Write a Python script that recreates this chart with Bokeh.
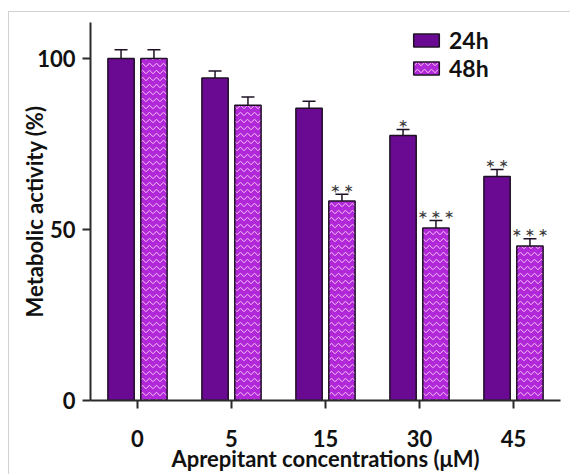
import numpy as np
from bokeh.plotting import figure
from bokeh.models import (Range1d, FixedTicker, ColumnDataSource, Whisker, TeeHead,
                          Legend, LegendItem)
from bokeh.core.properties import value
from bokeh.embed import file_html
from bokeh.resources import INLINE

# ---- data ----
categories = ["0", "5", "15", "30", "45"]
mean_24h = [100.0, 94.3, 85.4, 77.5, 65.5]
err_24h = [2.5, 2.0, 2.1, 1.7, 2.0]
mean_48h = [100.0, 86.3, 58.3, 50.4, 45.2]
err_48h = [2.5, 2.4, 2.0, 2.2, 2.1]
TS = "\u2009"
sig_24h = ["", "", "", "*", TS.join("**")]
sig_48h = ["", "", TS.join("**"), TS.join("***"), TS.join("***")]
series_labels = ["24h", "48h"]
y_ticks = [0, 50, 100]

FONT = "Lato"
C24 = "#6a0a92"
C48 = "#b028d8"
HATCH = "#f6c4f2"
EDGE = "#1e1024"
AXC = "#2b2b2b"

idx = np.arange(len(categories))
off = 0.175
bw = 0.28

src24 = ColumnDataSource(dict(x=idx - off, top=mean_24h, up=np.array(mean_24h) + np.array(err_24h), sig=sig_24h))
src48 = ColumnDataSource(dict(x=idx + off, top=mean_48h, up=np.array(mean_48h) + np.array(err_48h), sig=sig_48h))

# canvas placed at (9, 12) of the page, framed by thin grey lines on top/left
p = figure(width=562, height=463, output_backend="svg", toolbar_location=None,
           x_range=Range1d(-0.5, 4.5), y_range=Range1d(0, 110.5),
           min_border_left=81, min_border_right=11, min_border_top=10, min_border_bottom=75)
p.styles = {"margin-left": "8px", "margin-top": "11px",
            "border-left": "1px solid #d2d2d2", "border-top": "1px solid #d2d2d2"}
p.outline_line_color = None
p.grid.visible = False
p.background_fill_color = "white"
p.border_fill_color = "white"

r24 = p.vbar(x="x", top="top", width=bw, bottom=0, source=src24,
             fill_color=C24, line_color=EDGE, line_width=1.5)
r48 = p.vbar(x="x", top="top", width=bw, bottom=0, source=src48,
             fill_color=C48, line_color=EDGE, line_width=1.5,
             hatch_pattern="horizontal_wave", hatch_color=HATCH, hatch_scale=7, hatch_weight=1.0)

for s in (src24, src48):
    w = Whisker(base="x", lower="top", upper="up", source=s, line_color=EDGE, line_width=1.5,
                lower_head=None, upper_head=TeeHead(size=13, line_color=EDGE, line_width=1.5))
    p.add_layout(w)
    p.text(x="x", y="up", text="sig", source=s, text_font=value(FONT), text_font_size="24px",
           text_color="#3a3a3a", text_align="center", text_baseline="alphabetic", y_offset=-2)

# axes
xa = p.xaxis[0]
xa.ticker = FixedTicker(ticks=list(idx))
xa.major_label_overrides = {int(i): c for i, c in zip(idx, categories)}
ya = p.yaxis[0]
ya.ticker = FixedTicker(ticks=y_ticks)
for ax in (xa, ya):
    ax.axis_line_color = AXC
    ax.axis_line_width = 2
    ax.major_tick_line_color = AXC
    ax.major_tick_line_width = 2
    ax.major_tick_out = 8
    ax.major_tick_in = 0
    ax.minor_tick_line_color = None
    ax.major_label_text_font = FONT
    ax.major_label_text_font_style = "bold"
    ax.major_label_text_font_size = "22px"
    ax.major_label_text_color = "#111111"
    ax.axis_label_text_font = FONT
    ax.axis_label_text_font_style = "bold"
    ax.axis_label_text_font_size = "22px"
    ax.axis_label_text_color = "#111111"

ya.major_label_standoff = 7
ya.axis_label = "Metabolic activity (%)"
ya.axis_label_standoff = -14
xa.major_label_standoff = 21
xa.axis_label = "Aprepitant concentrations (\u03bcM)"
xa.axis_label_standoff = -5

for i, (r, y_loc) in enumerate(zip([r24, r48], [346, 318])):
    lg = Legend(items=[LegendItem(label=series_labels[i], renderers=[r])], location=(320, y_loc))
    lg.glyph_width = 32
    lg.glyph_height = 16
    lg.label_text_font = FONT
    lg.label_text_font_style = "bold"
    lg.label_text_font_size = "23px"
    lg.label_text_color = "#111111"
    lg.label_standoff = 7
    lg.padding = 0
    lg.margin = 0
    lg.spacing = 0
    lg.border_line_color = None
    lg.background_fill_alpha = 0
    p.add_layout(lg)

open("out.html", "w").write(file_html(p, INLINE))
